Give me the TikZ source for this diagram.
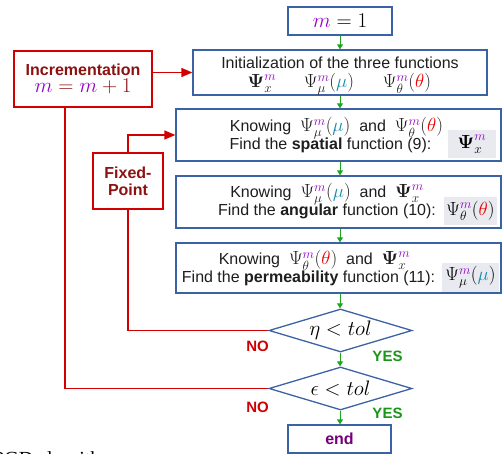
\RequirePackage{fix-cm}
\documentclass[tikz,border=0pt]{standalone}
\usepackage{amsmath,bm}
\usepackage{fontspec}
\setmainfont{Liberation Sans}
\newfontfamily\capfont{Liberation Serif}
\usetikzlibrary{shapes.geometric,arrows.meta}
\definecolor{bluec}{RGB}{58,98,165}
\definecolor{redc}{RGB}{210,0,0}
\definecolor{dredc}{RGB}{140,18,18}
\definecolor{mpur}{RGB}{150,0,200}
\definecolor{muc}{RGB}{25,140,175}
\definecolor{thc}{RGB}{235,0,0}
\definecolor{greenc}{RGB}{30,165,30}
\definecolor{yesc}{RGB}{25,150,25}
\definecolor{grayc}{RGB}{232,234,239}
\definecolor{endc}{RGB}{115,0,120}
\definecolor{txtc}{RGB}{30,30,30}
\newcommand\MM[1]{{\fontsize{19}{22}\selectfont$#1$}}
\newcommand\Px{\bm{\Psi}^{\textcolor{mpur}{m}}_{x}}
\newcommand\Pmu{\Psi^{\textcolor{mpur}{m}}_{\mu}(\textcolor{muc}{\mu})}
\newcommand\Pth{\Psi^{\textcolor{mpur}{m}}_{\theta}(\textcolor{thc}{\theta})}
\tikzset{
  bbox/.style={draw=bluec, line width=1.3pt, rectangle, inner sep=0pt},
  rbox/.style={draw=redc, line width=1.3pt, rectangle, inner sep=0pt, fill=white, text=dredc, font=\fontsize{16}{18}\selectfont\bfseries, align=center},
  gbox/.style={fill=grayc, rectangle, inner sep=0pt},
  dia/.style={draw=bluec, line width=1.3pt, diamond, aspect=3.3, inner sep=0pt, minimum width=143pt, minimum height=43pt},
  txt/.style={anchor=base, inner sep=0pt, text=txtc, font=\fontsize{16}{19}\selectfont},
  garrow/.style={draw=greenc, line width=1pt, -{Triangle[length=5pt,width=6pt]}},
  rline/.style={draw=redc, line width=1.4pt},
  rarrow/.style={rline, -{Triangle[length=11pt,width=9pt]}},
  nolab/.style={inner sep=0pt, text=redc, font=\fontsize{15}{17}\selectfont\bfseries},
  yeslab/.style={inner sep=0pt, text=yesc, font=\fontsize{15}{17}\selectfont\bfseries},
}
\begin{document}
\begin{tikzpicture}[x=1pt,y=-1pt]
\useasboundingbox (0,0) rectangle (503,454);
% main boxes
\node[bbox, minimum width=104pt, minimum height=28pt] (m1) at (340,21) {\fontsize{21}{24}\selectfont$\textcolor{mpur}{m}=1$};
\node[bbox, minimum width=294pt, minimum height=45pt] (init) at (340,72.5) {};
\node[bbox, minimum width=325pt, minimum height=52pt] (spat) at (338.5,135) {};
\node[bbox, minimum width=325pt, minimum height=52pt] (ang) at (338.5,202) {};
\node[bbox, minimum width=325pt, minimum height=50pt] (perm) at (338.5,268) {};
\node[dia] (d1) at (340.5,330.5) {\fontsize{21}{24}\selectfont$\eta<tol$};
\node[dia] (d2) at (340.5,388.5) {\fontsize{21}{24}\selectfont$\epsilon<tol$};
\node[bbox, minimum width=103pt, minimum height=28pt, text=endc, font=\fontsize{16}{18}\selectfont\bfseries] (end) at (339.5,439) {end};
% red boxes
\node[rbox, minimum width=138pt, minimum height=56pt] (incr) at (83,79) {Incrementation\\[-1pt]{\fontsize{21}{24}\selectfont$\textcolor{mpur}{m}=\textcolor{mpur}{m}+1$}};
\node[rbox, minimum width=70pt, minimum height=56pt] (fix) at (128,181) {Fixed-\\[-1pt]Point};
% texts in init
\node[txt] (t0) at (340,69) {Initialization of the three functions};
\node[txt] (t0a) at (262,88) {\MM{\Px}};
\node[txt] (t0b) at (329,88) {\MM{\Pmu}};
\node[txt] (t0c) at (407,88) {\MM{\Pth}};
% spatial
\node[txt] (t1) at (336.5,132) {Knowing \ \MM{\Pmu} \ and \ \MM{\Pth}};
\node[txt] (t2) at (330.5,150) {Find the \textbf{spatial} function (9):};
\node[gbox, minimum width=48pt, minimum height=28pt] (g1) at (472,144) {\MM{\Px}};
% angular
\node[txt] (t3) at (327,198) {Knowing \ \MM{\Pmu} \ and \ \MM{\Px}};
\node[txt] (t4) at (327,216) {Find the \textbf{angular} function (10):};
\node[gbox, minimum width=53pt, minimum height=28pt] (g2) at (470.5,211) {\MM{\Pth}};
% permeability
\node[txt] (t5) at (314.5,265) {Knowing \ \MM{\Pth} \ and \ \MM{\Px}};
\node[txt] (t6) at (308.5,283) {Find the \textbf{permeability} function (11):};
\node[gbox, minimum width=57pt, minimum height=29pt] (g3) at (470.5,277.5) {\MM{\Pmu}};
% labels
\node[nolab] (no1) at (257.5,346) {NO};
\node[nolab] (no2) at (257.5,407) {NO};
\node[yeslab] (yes1) at (387.5,356) {YES};
\node[yeslab] (yes2) at (387.5,413) {YES};
% green arrows
\draw[garrow] (m1.south) -- (m1.south |- init.north);
\draw[garrow] (init.south) -- (init.south |- spat.north);
\draw[garrow] (init.south |- spat.south) -- (init.south |- ang.north);
\draw[garrow] (init.south |- ang.south) -- (init.south |- perm.north);
\draw[garrow] (init.south |- perm.south) -- (init.south |- d1.north);
\draw[garrow] (init.south |- d1.south) -- (init.south |- d2.north);
\draw[garrow] (init.south |- d2.south) -- (init.south |- end.north);
% red connectors
\draw[rarrow] (init.west -| incr.east) -- (init.west);
\draw[rarrow] (fix.north) |- (spat.west);
\draw[rline] (d1.west) -| (fix.south);
\draw[rline] (d2.west) -| ([xshift=-18pt]incr.south);
% caption (cut off at the bottom edge, as in the reference)
\node[anchor=base west, inner sep=0pt, font=\capfont\fontsize{20}{22}\selectfont] (cap) at (-7,465) {PGD algorithm};
\end{tikzpicture}
\end{document}
